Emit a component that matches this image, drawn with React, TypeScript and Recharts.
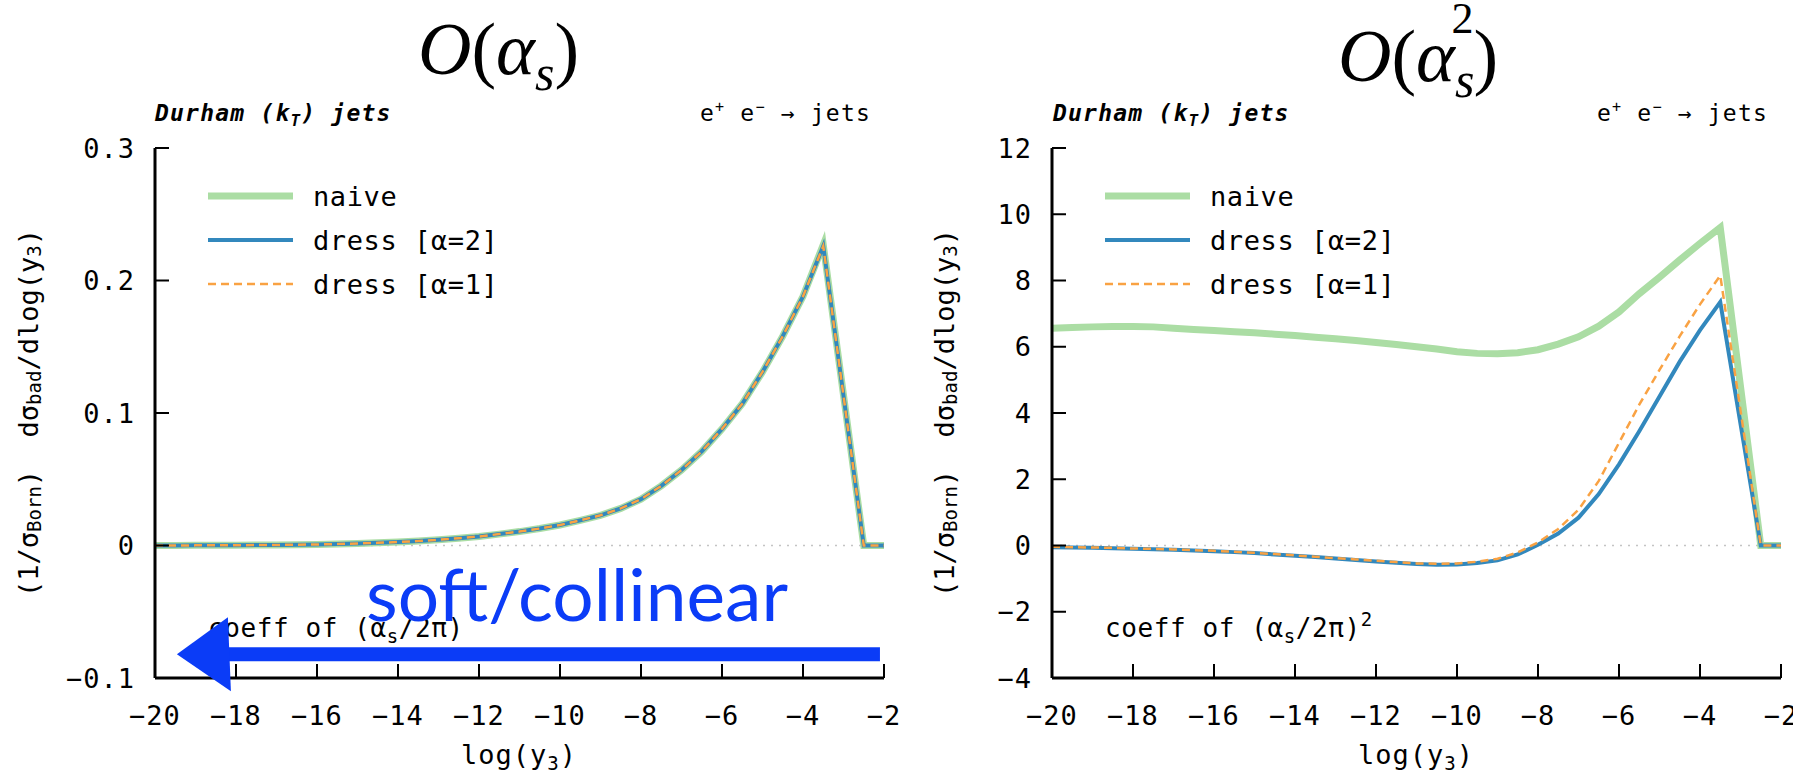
import React from 'react';
import { LineChart, Line, XAxis, YAxis, ReferenceLine, ReferenceDot, Legend } from 'recharts';

// log(y3) bin positions
const LOG_Y3 = [
  -20, -19.5, -19, -18.5, -18, -17.5, -17, -16.5, -16, -15.5, -15, -14.5, -14, -13.5, -13, -12.5, -12, -11.5,
  -11, -10.5, -10, -9.5, -9, -8.5, -8, -7.5, -7, -6.5, -6, -5.5, -5, -4.5, -4, -3.5, -2.5, -2,
];

// O(alpha_s) panel
const LEFT_NAIVE = [
  0, 0, 0.0001, 0.0001, 0.0002, 0.0003, 0.0004, 0.0006, 0.0008, 0.0011, 0.0015, 0.002, 0.0026, 0.0034, 0.0043, 0.0055,
  0.0068, 0.0086, 0.0105, 0.0128, 0.0155, 0.019, 0.0228, 0.028, 0.035, 0.045, 0.057, 0.071, 0.088, 0.107, 0.131, 0.158,
  0.188, 0.227, 0, 0,
];
const LEFT_DRESS_A2 = [
  0, 0, 0.0001, 0.0001, 0.0002, 0.0003, 0.0004, 0.0006, 0.0008, 0.0011, 0.0015, 0.002, 0.0026, 0.0034, 0.0043, 0.0055,
  0.0068, 0.0086, 0.0105, 0.0128, 0.0155, 0.019, 0.0228, 0.028, 0.035, 0.045, 0.057, 0.071, 0.088, 0.107, 0.131, 0.158,
  0.188, 0.226, 0, 0,
];
const LEFT_DRESS_A1 = [
  0, 0, 0.0001, 0.0001, 0.0002, 0.0003, 0.0004, 0.0006, 0.0008, 0.0011, 0.0015, 0.002, 0.0026, 0.0034, 0.0043, 0.0055,
  0.0068, 0.0086, 0.0105, 0.0128, 0.0155, 0.019, 0.0228, 0.028, 0.035, 0.045, 0.057, 0.071, 0.088, 0.107, 0.131, 0.158,
  0.188, 0.226, 0, 0,
];

// O(alpha_s^2) panel
const RIGHT_NAIVE = [
  6.56, 6.58, 6.6, 6.61, 6.61, 6.6, 6.56, 6.52, 6.49, 6.45, 6.42, 6.38, 6.34, 6.29, 6.24, 6.19, 6.13, 6.07, 6.0, 5.93,
  5.85, 5.8, 5.79, 5.82, 5.91, 6.08, 6.3, 6.62, 7.05, 7.6, 8.1, 8.62, 9.12, 9.6, 0, 0,
];
const RIGHT_DRESS_A2 = [
  -0.05, -0.06, -0.07, -0.08, -0.1, -0.11, -0.13, -0.15, -0.17, -0.2, -0.23, -0.27, -0.31, -0.35, -0.39, -0.44, -0.48,
  -0.52, -0.56, -0.58, -0.57, -0.53, -0.45, -0.27, 0.02, 0.36, 0.84, 1.55, 2.45, 3.45, 4.5, 5.55, 6.5, 7.35, 0, 0,
];
const RIGHT_DRESS_A1 = [
  -0.04, -0.05, -0.06, -0.07, -0.09, -0.1, -0.12, -0.14, -0.16, -0.19, -0.22, -0.26, -0.3, -0.34, -0.38, -0.42, -0.46,
  -0.5, -0.54, -0.55, -0.54, -0.49, -0.4, -0.21, 0.09, 0.5, 1.08, 1.95, 3.1, 4.25, 5.3, 6.32, 7.28, 8.15, 0, 0,
];

const X_TICKS = [-20, -18, -16, -14, -12, -10, -8, -6, -4, -2];
const LEFT_Y_TICKS = [-0.1, 0, 0.1, 0.2, 0.3];
const RIGHT_Y_TICKS = [-4, -2, 0, 2, 4, 6, 8, 10, 12];

const SERIES = [
  { key: 'naive', name: 'naive', color: '#abdda4', width: 7, dash: undefined as string | undefined },
  { key: 'dress2', name: 'dress [α=2]', color: '#3288bd', width: 4, dash: undefined as string | undefined },
  { key: 'dress1', name: 'dress [α=1]', color: '#f9a243', width: 2.5, dash: '8 5' },
];

const MONO = "'DejaVu Sans Mono', monospace";
const SERIF = "'Liberation Serif', serif";
const ANNOT_BLUE = '#0b3cf7';
const ARROW_Y = -0.082;

const toRows = (a: number[], b: number[], c: number[]) =>
  LOG_Y3.map((x, i) => ({ x, naive: a[i], dress2: b[i], dress1: c[i] }));

const leftData = toRows(LEFT_NAIVE, LEFT_DRESS_A2, LEFT_DRESS_A1);
const rightData = toRows(RIGHT_NAIVE, RIGHT_DRESS_A2, RIGHT_DRESS_A1);

const minus = (s: string) => s.replace('-', '−');
const fmtX = (v: number) => minus(String(v));
const fmtLeftY = (v: number) => minus(Math.abs(v) < 1e-9 ? '0' : v.toFixed(1));
const fmtRightY = (v: number) => minus(String(v));

const TICK = { fill: '#000', fontSize: 27, fontFamily: MONO, letterSpacing: 1 };

const LegendBox = () => (
  <svg width={320} height={132}>
    {SERIES.map((s, i) => (
      <g key={s.key}>
        <line x1={0} x2={85} y1={22 + 44 * i} y2={22 + 44 * i} stroke={s.color} strokeWidth={s.width} strokeDasharray={s.dash} />
        <text x={105} y={22 + 44 * i} dominantBaseline="central" fontFamily={MONO} fontSize={27} letterSpacing={0.6} fill="#000">
          {s.name}
        </text>
      </g>
    ))}
  </svg>
);

interface PanelProps {
  data: { x: number; naive: number; dress2: number; dress1: number }[];
  width: number;
  left: number;
  right: number;
  yDomain: [number, number];
  yTicks: number[];
  fmtY: (v: number) => string;
  arrow?: boolean;
}

const Panel: React.FC<PanelProps> = ({ data, width, left, right, yDomain, yTicks, fmtY, arrow }) => (
  <LineChart width={width} height={776} data={data} margin={{ top: 148, right, bottom: 48, left }}>
    <XAxis
      dataKey="x"
      type="number"
      domain={[-20, -2]}
      ticks={X_TICKS}
      interval={0}
      tickFormatter={fmtX}
      height={50}
      tickSize={-14}
      tickMargin={42}
      tick={TICK}
      axisLine={{ stroke: '#000', strokeWidth: 3 }}
      tickLine={{ stroke: '#000', strokeWidth: 2 }}
    />
    <XAxis
      xAxisId="top"
      orientation="top"
      dataKey="x"
      type="number"
      domain={[-20, -2]}
      ticks={X_TICKS}
      interval={0}
      height={0}
      tickSize={-14}
      tick={false}
      axisLine={{ stroke: '#000', strokeWidth: 3 }}
      tickLine={{ stroke: '#000', strokeWidth: 2 }}
    />
    <YAxis
      type="number"
      domain={yDomain}
      ticks={yTicks}
      interval={0}
      tickFormatter={fmtY}
      width={80}
      tickSize={-14}
      tickMargin={34}
      tick={TICK}
      axisLine={{ stroke: '#000', strokeWidth: 3 }}
      tickLine={{ stroke: '#000', strokeWidth: 2 }}
    />
    <YAxis
      yAxisId="right"
      orientation="right"
      type="number"
      domain={yDomain}
      ticks={yTicks}
      interval={0}
      width={0}
      tickSize={-14}
      tick={false}
      axisLine={{ stroke: '#000', strokeWidth: 3 }}
      tickLine={{ stroke: '#000', strokeWidth: 2 }}
    />
    <ReferenceLine y={0} stroke="#c4c4c4" strokeWidth={1.5} strokeDasharray="2 6" />
    {SERIES.map((s) => (
      <Line
        key={s.key}
        type="linear"
        dataKey={s.key}
        name={s.name}
        stroke={s.color}
        strokeWidth={s.width}
        strokeDasharray={s.dash}
        dot={false}
        activeDot={false}
        isAnimationActive={false}
      />
    ))}
    <Legend
      layout="vertical"
      align="center"
      verticalAlign="middle"
      wrapperStyle={{ left: left + 133, top: 174, width: 'auto' }}
      content={LegendBox}
    />
    {arrow && (
      <ReferenceLine
        segment={[
          { x: -18.3, y: ARROW_Y },
          { x: -2.1, y: ARROW_Y },
        ]}
        stroke={ANNOT_BLUE}
        strokeWidth={14}
        ifOverflow="visible"
      />
    )}
    {arrow && (
      <ReferenceDot
        x={-18.2}
        y={ARROW_Y}
        r={0}
        ifOverflow="visible"
        shape={(p: any) => (
          <polygon
            points={`${p.cx - 51},${p.cy} ${p.cx},${p.cy - 37} ${p.cx + 3},${p.cy + 37}`}
            fill={ANNOT_BLUE}
          />
        )}
      />
    )}
  </LineChart>
);

const SUB = 19;

const YTitle = ({ cx }: { cx: number }) => (
  <text
    transform={`translate(${cx},413) rotate(-90)`}
    textAnchor="middle"
    dominantBaseline="central"
    fontFamily={MONO}
    fontSize={27}
    style={{ whiteSpace: 'pre' }}
  >
    (1/σ<tspan fontSize={SUB} dy={6}>Born</tspan>
    <tspan dy={-6}>)  dσ</tspan>
    <tspan fontSize={SUB} dy={6}>bad</tspan>
    <tspan dy={-6}>/dlog(y</tspan>
    <tspan fontSize={SUB} dy={6}>3</tspan>
    <tspan dy={-6}>)</tspan>
  </text>
);

const XTitle = ({ cx }: { cx: number }) => (
  <text x={cx} y={764} textAnchor="middle" fontFamily={MONO} fontSize={27} letterSpacing={1}>
    log(y<tspan fontSize={SUB} dy={6}>3</tspan>
    <tspan dy={-6}>)</tspan>
  </text>
);

const Header = ({ x0, x1 }: { x0: number; x1: number }) => (
  <g fontFamily={MONO} fill="#000" style={{ whiteSpace: 'pre' }}>
    <text x={x0} y={121} fontSize={23} fontWeight="bold" fontStyle="italic" letterSpacing={1.2}>
      Durham (k<tspan fontSize={16} dy={5}>T</tspan>
      <tspan dy={-5}>) jets</tspan>
    </text>
    <text x={x1} y={121} fontSize={23} textAnchor="end" letterSpacing={1.2}>
      e<tspan fontSize={15} dy={-9}>+</tspan>
      <tspan dy={9}> e</tspan>
      <tspan fontSize={15} dy={-9}>−</tspan>
      <tspan dy={9}> → jets</tspan>
    </text>
  </g>
);

export default function App() {
  return (
    <div style={{ position: 'absolute', left: 0, top: 0, width: 1793, height: 776, background: '#fff', overflow: 'hidden' }}>
      <svg width={1793} height={776} style={{ position: 'absolute', left: 0, top: 0 }}>
        <text x={418} y={74} fontFamily={SERIF} fontSize={74}>
          <tspan fontStyle="italic">O</tspan>(<tspan fontStyle="italic">α</tspan>
          <tspan fontStyle="italic" fontSize={50} dy={16}>s</tspan>
          <tspan dy={-16}>)</tspan>
        </text>
        <text x={1338} y={81} fontFamily={SERIF} fontSize={74}>
          <tspan fontStyle="italic">O</tspan>(<tspan fontStyle="italic">α</tspan>
          <tspan fontStyle="italic" fontSize={50} dy={16}>s</tspan>
          <tspan fontSize={44} dx={-23} dy={-64}>2</tspan>
          <tspan dy={48}>)</tspan>
        </text>
        <Header x0={155} x1={871} />
        <Header x0={1053} x1={1768} />
        <YTitle cx={28} />
        <YTitle cx={944} />
        <XTitle cx={519} />
        <XTitle cx={1416} />
        <text x={208} y={637} fontFamily={MONO} fontSize={26} letterSpacing={0.6} style={{ whiteSpace: 'pre' }}>
          coeff of (α<tspan fontSize={SUB} dy={6}>s</tspan>
          <tspan dy={-6}>/2π)</tspan>
        </text>
        <text x={1105} y={637} fontFamily={MONO} fontSize={26} letterSpacing={0.6} style={{ whiteSpace: 'pre' }}>
          coeff of (α<tspan fontSize={SUB} dy={6}>s</tspan>
          <tspan dy={-6}>/2π)</tspan>
          <tspan fontSize={SUB} dy={-11}>2</tspan>
        </text>
      </svg>
      <div style={{ position: 'absolute', left: 0, top: 0 }}>
        <Panel data={leftData} width={900} left={75} right={16} yDomain={[-0.1, 0.3]} yTicks={LEFT_Y_TICKS} fmtY={fmtLeftY} arrow />
      </div>
      <div style={{ position: 'absolute', left: 900, top: 0 }}>
        <Panel data={rightData} width={893} left={72} right={12} yDomain={[-4, 12]} yTicks={RIGHT_Y_TICKS} fmtY={fmtRightY} />
      </div>
      <svg width={1793} height={776} style={{ position: 'absolute', left: 0, top: 0, pointerEvents: 'none' }}>
        <text x={366} y={621} fontFamily="Lato, 'Open Sans', sans-serif" fontSize={72} fill={ANNOT_BLUE} textLength={422} lengthAdjust="spacingAndGlyphs">
          soft/collinear
        </text>
      </svg>
    </div>
  );
}
